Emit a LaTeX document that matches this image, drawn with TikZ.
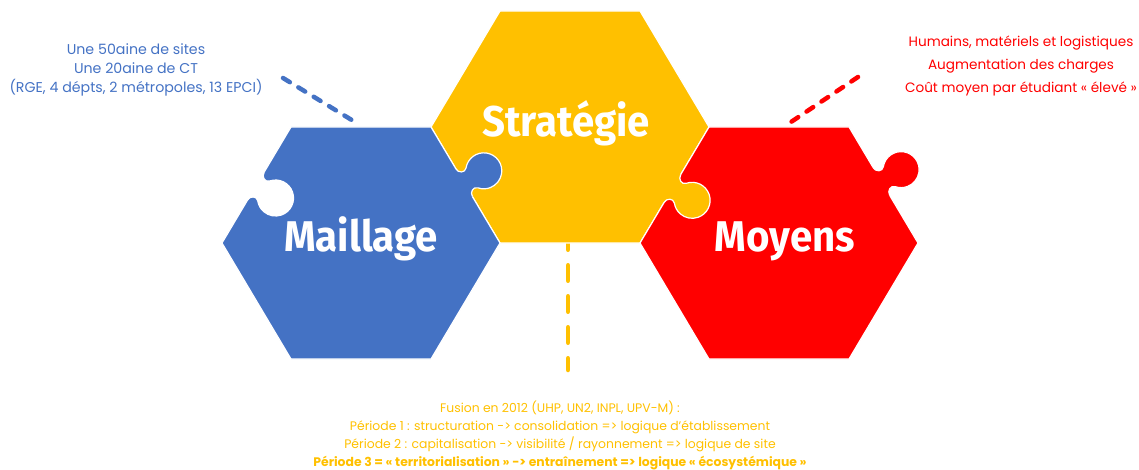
\documentclass[tikz,border=0pt]{standalone}
\usepackage{fontspec}
\setmainfont{Poppins}
\newfontfamily\bigfont{Fira Sans}[FakeStretch=0.935]
\definecolor{cblue}{HTML}{4472C4}
\definecolor{cyellow}{HTML}{FFC000}
\definecolor{cred}{HTML}{FF0000}
\newcommand\hexagonat[2]{(#1-139,#2) -- (#1-70,#2+116) -- (#1+70,#2+116) -- (#1+139,#2) -- (#1+70,#2-116) -- (#1-70,#2-116) -- cycle}
\newcommand\puzzleknob[3]{%
  \begin{scope}[shift={#1}, rotate=#2-90]
    \fill[#3] (-16,-3) -- (-16,0) .. controls (-11,0) and (-7.8,6) .. (-11.6,9.2)
      arc[start angle=230, end angle=-50, radius=18]
      .. controls (7.8,6) and (11,0) .. (16,0) -- (16,-3) -- cycle;
    \draw[edgeline] (-16,0) .. controls (-11,0) and (-7.8,6) .. (-11.6,9.2)
      arc[start angle=230, end angle=-50, radius=18]
      .. controls (7.8,6) and (11,0) .. (16,0);
  \end{scope}}
\tikzset{
  edgeline/.style={white, line width=1.2pt},
  piece/.style={edgeline, line join=round},
  biglabel/.style={anchor=base, text=white, font=\bigfont\bfseries\fontsize{43}{43}\selectfont, inner sep=0pt},
  dashlink/.style={line width=4.5pt, line cap=round, dash pattern=on 8pt off 10pt},
  infotext/.style={align=center, inner sep=0pt},
}
\begin{document}
\begin{tikzpicture}[x=1pt,y=1pt]
\useasboundingbox (0,0) rectangle (1139,469);
% centres
\coordinate (cB) at (361,226);
\coordinate (cY) at (570,342);
\coordinate (cR) at (779,226);
% dashed connectors
\coordinate (bA) at (283,391); \coordinate (bB) at (355,347);
\coordinate (rA) at (858,392); \coordinate (rB) at (791,347);
\coordinate (yA) at (568,226); \coordinate (yB) at (568,99);
\draw[dashlink, cblue] (bA) -- (bB);
\draw[dashlink, cred] (rA) -- (rB);
\draw[cyellow, line width=4.5pt, line cap=round, dash pattern=on 15.5pt off 15.5pt, dash phase=8.75pt] (yA) -- (yB);
% hexagons
\filldraw[piece, fill=cyellow] \hexagonat{570}{342};
\filldraw[piece, fill=cblue] \hexagonat{361}{226};
\filldraw[piece, fill=cred] \hexagonat{779}{226};
% puzzle tabs and hole
\puzzleknob{(464.1,286.3)}{31}{cblue}
\puzzleknob{(672.4,280.5)}{-31}{cyellow}
\puzzleknob{(881.4,287.5)}{31}{cred}
\puzzleknob{(255.8,282.8)}{-31}{white}
% labels
\node[biglabel] (lM) at (361,217.3) {Maillage};
\node[biglabel] (lS) at (566,332.3) {Stratégie};
\node[biglabel] (lY) at (785,217.3) {Moyens};
% texts
\node[infotext, text=cblue, font=\fontsize{14.2}{19}\selectfont] (tB) at (136,399.5) {Une 50aine de sites\\Une 20aine de CT\\(RGE, 4 dépts, 2 métropoles, 13 EPCI)};
\node[infotext, text=cred, font=\fontsize{13.6}{23}\selectfont] (tR) at (1021,403) {Humains, matériels et logistiques\\Augmentation des charges\\Coût moyen par étudiant « élevé »};
\node[infotext, text=cyellow, font=\fontsize{12.4}{18}\selectfont, anchor=north] (tY) at (560,68) {Fusion en 2012 (UHP, UN2, INPL, UPV-M) :\\Période 1 : structuration -> consolidation => logique d’établissement\\Période 2 : capitalisation -> visibilité / rayonnement => logique de site\\\textbf{Période 3 = « territorialisation » -> entraînement => logique « écosystémique »}};
\end{tikzpicture}
\end{document}
